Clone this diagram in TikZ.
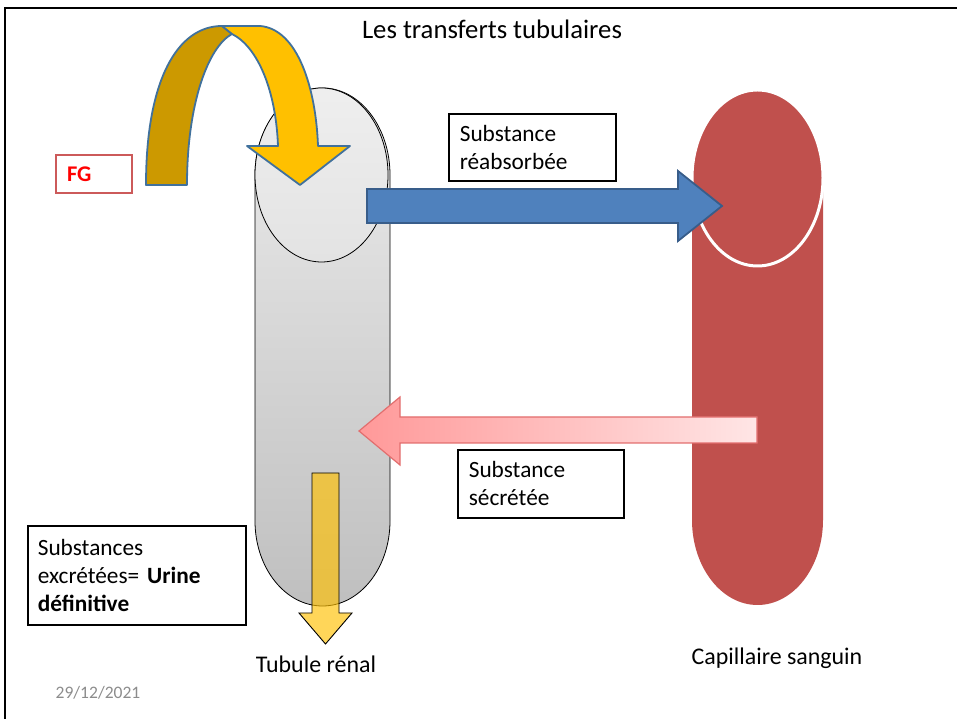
\documentclass[tikz,border=0pt]{standalone}
\usepackage{fontspec}
\setmainfont{Carlito}
\usetikzlibrary{positioning}
\definecolor{capred}{RGB}{192,80,77}
\definecolor{arrowblue}{RGB}{79,129,189}
\definecolor{arrowedge}{RGB}{56,93,138}
\definecolor{ribbonedge}{RGB}{65,113,156}
\definecolor{gold}{RGB}{255,192,0}
\definecolor{darkgold}{RGB}{204,153,0}
\definecolor{pinkedge}{RGB}{226,110,110}
\definecolor{fgred}{RGB}{204,90,90}
\definecolor{dategray}{RGB}{140,140,140}

\begin{document}
\begin{tikzpicture}[x=1bp, y=1bp,
      txtbox/.style={draw, line width=1.6bp, align=left, inner xsep=11bp, anchor=north west,
                     font=\fontsize{23.4}{28}\selectfont},
      lbl/.style={font=\fontsize{24}{28}\selectfont},
      ribbon/.style={draw=ribbonedge, line width=1.8bp, line join=round}]
    \useasboundingbox (0,0) rectangle (957,719);
    \draw[line width=2bp] (5,0) -- (5,711) -- (957,711);
    \node[font=\fontsize{26.8}{32}\selectfont] (titre) at (492,690) {Les transferts tubulaires};
    % tubule
    \draw[top color=gray!15, bottom color=gray!50, line width=0.8bp]
      (255,544) arc[start angle=180, end angle=0, x radius=67.5, y radius=87]
      -- (390,198) arc[start angle=0, end angle=-180, x radius=67.5, y radius=85] -- cycle;
    \draw[top color=gray!13, bottom color=gray!22, line width=0.8bp]
      (321.5,544) ellipse[x radius=66.5, y radius=87];
    % capillaire
    \fill[capred]
      (692,541) arc[start angle=180, end angle=0, x radius=65.5, y radius=88]
      -- (823,199) arc[start angle=0, end angle=-180, x radius=65.5, y radius=85] -- cycle;
    \draw[white, line width=3bp] (757.5,541) ellipse[x radius=65.5, y radius=88];
    % fleches
    \draw[fill=arrowblue, draw=arrowedge, line width=1.8bp]
      (367,530) -- (678,530) -- (678,548) -- (722,513) -- (678,478) -- (678,496) -- (367,496) -- cycle;
    \draw[left color=red!40, right color=red!10, draw=pinkedge, line width=1.2bp]
      (757,302) -- (400,302) -- (400,322) -- (359,288) -- (400,254) -- (400,276) -- (757,276) -- cycle;
    \draw[fill=gold, fill opacity=0.65, line width=0.9bp]
      (312,246) -- (339,246) -- (339,106) -- (352,106) -- (325.5,75) -- (299,106) -- (312,106) -- cycle;
    \draw[ribbon, fill=darkgold]
      (146,534) .. controls (146,640) and (178,693) .. (222,693) -- (232,685)
      .. controls (208,672) and (187,615) .. (187,534) -- cycle;
    \draw[ribbon, fill=gold]
      (222,693) -- (260,693) .. controls (298,690) and (316,630) .. (318,573) -- (350,573) -- (300,534)
      -- (247,573) -- (278,573) .. controls (276,628) and (258,672) .. (232,685) -- cycle;
    % textes
    \node[draw=fgred, line width=1.4bp, minimum width=76bp, minimum height=38bp, text width=54bp,
          inner xsep=11bp, align=left, text=red, font=\bfseries\fontsize{22.5}{26}\selectfont]
      (fg) at (94,545) {FG};
    \node[txtbox, text width=145bp, minimum height=67bp] (reabs) at (448,606) {Substance\\réabsorbée};
    \node[txtbox, text width=144bp, minimum height=68bp] (secr) at (457,270) {Substance\\sécrétée};
    \node[txtbox, text width=198bp, minimum height=99bp, inner xsep=10bp] (urine) at (27,194)
      {Substances\\excrétées= \textbf{Urine}\\\textbf{définitive}};
    \node[lbl] (tubule) at (316,55) {Tubule rénal};
    \node[lbl] (capillaire) at (777,61) {Capillaire sanguin};
    \node[font=\fontsize{17.6}{20}\selectfont, text=dategray] (date) at (98,26) {29/12/2021};
  \end{tikzpicture}
\end{document}
